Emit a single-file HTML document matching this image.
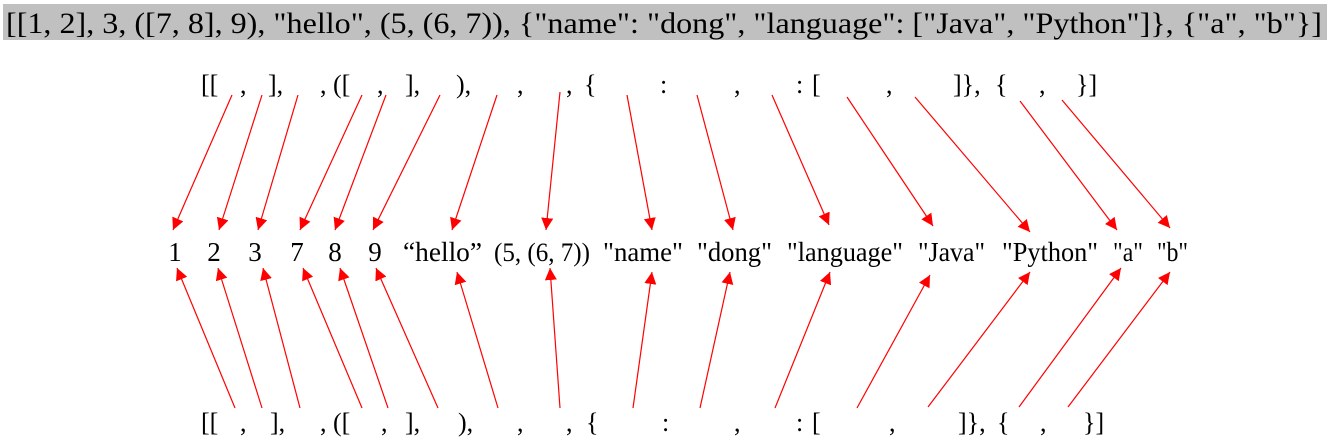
<!DOCTYPE html>
<html><head><style>body{margin:0;background:#fff}svg{display:block}text{font-family:"Liberation Serif",serif;fill:#000}</style></head>
<body>
<svg width="1335" height="443" viewBox="0 0 1335 443" xmlns="http://www.w3.org/2000/svg">
<defs><marker id="m" viewBox="0 0 10 10" refX="10" refY="5" markerWidth="12" markerHeight="12" markerUnits="userSpaceOnUse" orient="auto"><path d="M0,0L10,5L0,10z" fill="#f00"/></marker></defs>
<rect x="3" y="4" width="1324" height="36" fill="#c0c0c0"/>
<text x="6" y="33" font-size="30" textLength="1316" lengthAdjust="spacingAndGlyphs">[[1, 2], 3, ([7, 8], 9), "hello", (5, (6, 7)), {"name": "dong", "language": ["Java", "Python"]}, {"a", "b"}]</text>
<g font-size="26">
<g transform="translate(0,93)">
<text x="201">[[</text><text x="240">,</text><text x="268">],</text><text x="320">,</text><text x="333">([</text><text x="377">,</text><text x="405">],</text><text x="456">),</text><text x="517">,</text><text x="566">,</text><text x="584">{</text><text x="660">:</text><text x="734">,</text><text x="796">:</text><text x="812">[</text><text x="886">,</text><text x="953">]},</text><text x="995">{</text><text x="1039">,</text><text x="1076">}]</text>
</g>
<g transform="translate(0,431)">
<text x="201">[[</text><text x="240">,</text><text x="270">],</text><text x="320">,</text><text x="333">([</text><text x="381">,</text><text x="405">],</text><text x="458">),</text><text x="517">,</text><text x="566">,</text><text x="586">{</text><text x="662">:</text><text x="734">,</text><text x="796">:</text><text x="812">[</text><text x="889">,</text><text x="958">]},</text><text x="997">{</text><text x="1040">,</text><text x="1083">}]</text>
</g>
</g>
<g font-size="27" transform="translate(0,261)">
<g text-anchor="middle"><text x="175">1</text><text x="214">2</text><text x="255">3</text><text x="297">7</text><text x="335">8</text><text x="375">9</text></g>
<text x="403" textLength="79" lengthAdjust="spacingAndGlyphs">“hello”</text>
<text x="494" font-size="26" textLength="96" lengthAdjust="spacingAndGlyphs">(5, (6, 7))</text>
<text x="603" textLength="80" lengthAdjust="spacingAndGlyphs">"name"</text>
<text x="697" textLength="75" lengthAdjust="spacingAndGlyphs">"dong"</text>
<text x="787" textLength="116" lengthAdjust="spacingAndGlyphs">"language"</text>
<text x="918" textLength="67" lengthAdjust="spacingAndGlyphs">"Java"</text>
<text x="1002" textLength="96" lengthAdjust="spacingAndGlyphs">"Python"</text>
<text x="1113" textLength="30" lengthAdjust="spacingAndGlyphs">"a"</text>
<text x="1157" textLength="31" lengthAdjust="spacingAndGlyphs">"b"</text>
</g>
<g stroke="#f00" stroke-width="1.2" fill="none" marker-end="url(#m)">
<line x1="232" y1="95" x2="173" y2="230"/><line x1="262" y1="95" x2="219" y2="230"/><line x1="298" y1="95" x2="258" y2="230"/><line x1="362" y1="95" x2="300" y2="230"/><line x1="386" y1="95" x2="335" y2="230"/><line x1="440" y1="95" x2="373" y2="230"/><line x1="497" y1="95" x2="452" y2="230"/><line x1="560" y1="92" x2="546" y2="230"/><line x1="627" y1="95" x2="652" y2="230"/><line x1="697" y1="95" x2="733" y2="230"/><line x1="772" y1="95" x2="829" y2="225"/><line x1="847" y1="97" x2="933" y2="226"/><line x1="915" y1="97" x2="1030" y2="232"/><line x1="1020" y1="101" x2="1117" y2="230"/><line x1="1062" y1="100" x2="1170" y2="228"/>
<line x1="235" y1="408" x2="177" y2="268"/><line x1="262" y1="408" x2="218" y2="268"/><line x1="300" y1="408" x2="263" y2="268"/><line x1="362" y1="408" x2="303" y2="268"/><line x1="388" y1="408" x2="340" y2="268"/><line x1="438" y1="408" x2="376" y2="268"/><line x1="498" y1="408" x2="457" y2="272"/><line x1="560" y1="408" x2="550" y2="268"/><line x1="633" y1="408" x2="652" y2="272"/><line x1="700" y1="408" x2="730" y2="272"/><line x1="775" y1="408" x2="830" y2="272"/><line x1="857" y1="408" x2="930" y2="275"/><line x1="928" y1="407" x2="1030" y2="272"/><line x1="1019" y1="407" x2="1121" y2="268"/><line x1="1068" y1="407" x2="1170" y2="272"/>
</g>
</svg>
</body></html>
